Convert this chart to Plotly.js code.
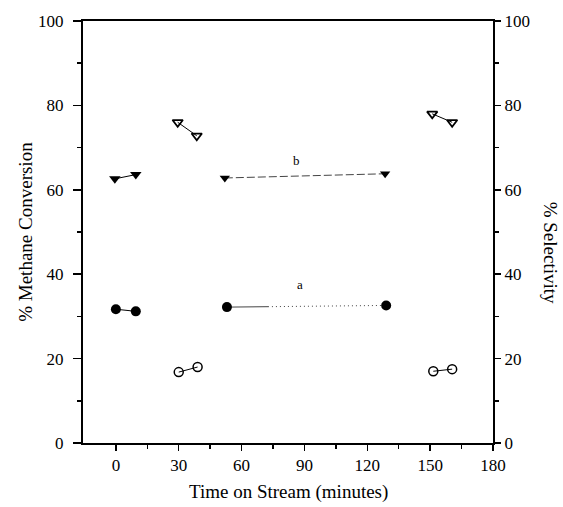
<!DOCTYPE html>
<html><head><meta charset="utf-8">
<script src="https://cdn.plot.ly/plotly-3.0.1.min.js"></script>
<style>body{margin:0;background:#fff}#g{width:563px;height:507px}</style>
</head><body><div id="g"></div>
<script>
// Time on stream (minutes) and values (%)
const convTime1 = [0, 9.5];      const conv1 = [31.7, 31.2];
const convTimeA = [53, 129];     const convA = [32.2, 32.6];
const selCircTime1 = [30, 39];   const selCirc1 = [16.8, 18.0];
const selCircTime2 = [151.5, 160.5]; const selCirc2 = [17.0, 17.5];
const triTime1 = [-0.5, 9.5];    const tri1 = [62.6, 63.6];
const triTimeB = [52, 128.5];    const triB = [62.8, 63.8];
const openTriTime1 = [29.5, 38.6]; const openTri1 = [76.0, 72.8];
const openTriTime2 = [151, 160.5]; const openTri2 = [78.0, 76.0];
const xTicks = [0, 30, 60, 90, 120, 150, 180];
const yTicks = [0, 20, 40, 60, 80, 100];
const labelA = {x: 88, y: 37.5, text: 'a'};
const labelB = {x: 86, y: 67, text: 'b'};

const font = "'Liberation Serif', 'DejaVu Serif', serif";
function dashPattern(solid, n){ let s = solid + 'px'; for(let i=0;i<n;i++) s += ',3px,1px'; return s + ',3px'; }

const filledCircle = {symbol:'circle', size:10, color:'#000'};
const openCircle = {symbol:'circle-open', size:9, color:'#000', line:{width:1.5}};
const filledTri = {symbol:'triangle-down', size:10, color:'#000'};
const openTri = {symbol:'triangle-down-open', size:9, color:'#000', line:{width:1.8}};
const pairLine = {color:'#000', width:1};

const traces = [
  {x:convTime1, y:conv1, mode:'lines+markers', marker:filledCircle, line:pairLine},
  {x:convTimeA, y:convA, mode:'lines+markers', marker:filledCircle, line:{color:'#444', width:1, dash:dashPattern(42, 40)}},
  {x:selCircTime1, y:selCirc1, mode:'lines+markers', marker:openCircle, line:pairLine},
  {x:selCircTime2, y:selCirc2, mode:'lines+markers', marker:openCircle, line:pairLine},
  {x:triTime1, y:tri1, mode:'lines+markers', marker:filledTri, line:pairLine},
  {x:triTimeB, y:triB, mode:'lines+markers', marker:{symbol:'triangle-down', size:9, color:'#000'}, line:{color:'#444', width:1, dash:'8px,3px'}},
  {x:openTriTime1, y:openTri1, mode:'lines+markers', marker:openTri, line:pairLine},
  {x:openTriTime2, y:openTri2, mode:'lines+markers', marker:openTri, line:pairLine},
  {x:[null], y:[null], yaxis:'y2', showlegend:false}
];

const axCommon = {
  showgrid:false, zeroline:false, showline:true, linecolor:'#000', linewidth:2,
  ticks:'outside', ticklen:6, tickwidth:1.5, tickcolor:'#000',
  tickfont:{family:font, size:17, color:'#000'}
};
const minorY = {ticks:'outside', ticklen:4, tickwidth:1.5, tickcolor:'#000', tickvals:[10,30,50,70,90]};

const layout = {
  width:563, height:507, showlegend:false,
  paper_bgcolor:'#fff', plot_bgcolor:'#fff',
  margin:{l:83, r:70, t:21, b:64},
  font:{family:font, color:'#000'},
  xaxis:Object.assign({}, axCommon, {range:[-15.7, 180], tickvals:xTicks, ticktext:xTicks.map(String),
    minor:{ticks:'outside', ticklen:4, tickwidth:1.5, tickcolor:'#000', tickvals:[15,45,75,105,135,165]},
    mirror:true}),
  yaxis:Object.assign({}, axCommon, {range:[0,100], tickvals:yTicks, ticktext:yTicks.map(String), minor:minorY,
    ticklen:8, ticklabelstandoff:6}),
  yaxis2:Object.assign({}, axCommon, {range:[0,100], overlaying:'y', side:'right', tickvals:yTicks, ticktext:yTicks.map(String), minor:minorY}),
  annotations:[
    {x:labelA.x, y:labelA.y, text:labelA.text, showarrow:false, font:{family:font, size:13, color:'#000'}},
    {x:labelB.x, y:labelB.y, text:labelB.text, showarrow:false, font:{family:font, size:13, color:'#000'}},
    {xref:'paper', yref:'paper', x:0.5, y:-0.116, yanchor:'middle', text:'Time on Stream (minutes)', showarrow:false, font:{family:font, size:19, color:'#000'}},
    {xref:'paper', yref:'paper', x:-0.142, y:0.5, xanchor:'center', text:'% Methane Conversion', textangle:-90, showarrow:false, font:{family:font, size:19, color:'#000'}},
    {xref:'paper', yref:'paper', x:1.14, y:0.45, xanchor:'center', text:'% Selectivity', textangle:90, showarrow:false, font:{family:font, size:19, color:'#000'}}
  ]
};
Plotly.newPlot('g', traces, layout, {displayModeBar:false, staticPlot:true});
</script></body></html>
